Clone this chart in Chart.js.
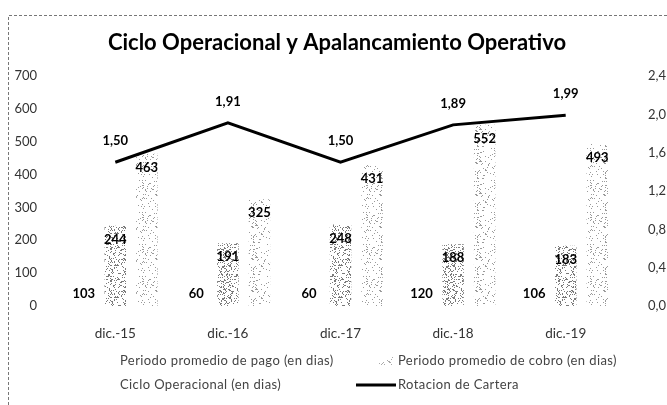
<!DOCTYPE html>
<html><head><meta charset="utf-8">
<script src="https://cdn.jsdelivr.net/npm/chart.js@4.4.1/dist/chart.umd.min.js"></script>
<style>html,body{margin:0;padding:0;background:#fff;}#wrap{position:relative;width:667px;height:405px;}canvas{display:block;}</style>
</head><body><div id="wrap"><canvas id="c" width="667" height="405"></canvas></div>
<script>
// ---- data ----
const categories = ['dic.-15', 'dic.-16', 'dic.-17', 'dic.-18', 'dic.-19'];
const pagoDias = [103, 60, 60, 120, 106];
const cobroDias = [244, 191, 248, 188, 183];
const cicloDias = [463, 325, 431, 552, 493];
const rotacionCartera = [1.50, 1.91, 1.50, 1.89, 1.99];
const leftTicks = [0, 100, 200, 300, 400, 500, 600, 700];
const rightTicks = [0, 0.4, 0.8, 1.2, 1.6, 2.0, 2.4];
const seriesNames = ['Periodo promedio de pago (en dias)', 'Periodo promedio de cobro (en dias)', 'Ciclo Operacional (en dias)', 'Rotacion de Cartera'];
const chartTitle = 'Ciclo Operacional y Apalancamiento Operativo';

const FONT = 'Lato, "Open Sans", sans-serif';

// stipple texture (deterministic hash)
function stipple(threshold, color) {
  const c = document.createElement('canvas');
  c.width = 32; c.height = 32;
  const g = c.getContext('2d');
  g.fillStyle = '#ffffff'; g.fillRect(0, 0, 32, 32);
  g.fillStyle = color;
  for (let y = 0; y < 32; y++) for (let x = 0; x < 32; x++) {
    let h = (x * 374761393 + y * 668265263) | 0;
    h = Math.imul(h ^ (h >>> 13), 1274126177);
    h = (h ^ (h >>> 16)) >>> 0;
    if ((h % 1000) < threshold) g.fillRect(x, y, 1, 1);
  }
  return g.createPattern(c, 'repeat');
}
const ctx0 = document.getElementById('c').getContext('2d');
const cobroFill = stipple(230, '#7a7a7a');
const cicloFill = stipple(110, '#9a9a9a');
const legendCobroFill = stipple(120, '#aaaaaa');

const fmtComma = v => v.toFixed(2).replace('.', ',');

const bgPlugin = {
  id: 'bg',
  beforeDraw(chart) {
    const g = chart.ctx;
    g.save();
    g.fillStyle = '#fff'; g.fillRect(0, 0, chart.width, chart.height);
    g.strokeStyle = '#777'; g.lineWidth = 1; g.setLineDash([3, 2]);
    g.beginPath(); g.moveTo(8.5, 405); g.lineTo(8.5, 15.5); g.lineTo(667, 15.5); g.stroke();
    g.setLineDash([]);
    g.fillStyle = '#000'; g.font = 'bold 22px ' + FONT;
    g.textAlign = 'center'; g.textBaseline = 'middle';
    g.fillText(chartTitle, 337, 43);
    g.restore();
  }
};

const labelPlugin = {
  id: 'vals',
  afterDatasetsDraw(chart) {
    const g = chart.ctx;
    g.save();
    g.textAlign = 'center'; g.textBaseline = 'middle';
    g.fillStyle = '#000';
    g.font = 'bold 13px ' + FONT;
    chart.data.datasets.forEach((ds, di) => {
      const meta = chart.getDatasetMeta(di);
      meta.data.forEach((el, i) => {
        const v = ds.data[i];
        if (ds.type === 'line') {
          g.fillText(fmtComma(v), el.x, el.y - 21);
        } else if (di === 0) {
          g.fillText(String(v), el.x, el.base - 12);
        } else {
          g.fillText(String(v), el.x, el.y + 14);
        }
      });
    });
    g.restore();
  }
};

const legendPlugin = {
  id: 'leg',
  afterDraw(chart) {
    const g = chart.ctx;
    g.save();
    g.font = '13px ' + FONT;
    try { g.letterSpacing = '0.4px'; } catch (e) {}
    g.fillStyle = '#444';
    g.textBaseline = 'middle'; g.textAlign = 'left';
    const r1 = 361, r2 = 385;
    g.fillText(seriesNames[0], 120, r1);
    g.fillStyle = legendCobroFill; g.fillRect(379, r1 - 4, 16, 8);
    g.fillStyle = '#444';
    g.fillText(seriesNames[1], 398, r1);
    g.fillText(seriesNames[2], 120, r2);
    g.strokeStyle = '#000'; g.lineWidth = 3;
    g.beginPath(); g.moveTo(356, r2); g.lineTo(396, r2); g.stroke();
    g.fillText(seriesNames[3], 398, r2);
    g.restore();
  }
};

new Chart(ctx0, {
  data: {
    labels: categories,
    datasets: [
      { type: 'bar', label: seriesNames[0], data: pagoDias, yAxisID: 'y', backgroundColor: '#fff', order: 1 },
      { type: 'bar', label: seriesNames[1], data: cobroDias, yAxisID: 'y', backgroundColor: cobroFill, order: 1 },
      { type: 'bar', label: seriesNames[2], data: cicloDias, yAxisID: 'y', backgroundColor: cicloFill, order: 1 },
      { type: 'line', label: seriesNames[3], data: rotacionCartera, yAxisID: 'y1', borderColor: '#000', borderWidth: 3, pointRadius: 0, tension: 0, order: 0, fill: false }
    ]
  },
  options: {
    responsive: false,
    animation: false,
    events: [],
    datasets: { bar: { categoryPercentage: 0.84, barPercentage: 0.68 } },
    layout: { padding: { left: 0, right: 0, top: 76, bottom: 59 } },
    plugins: { legend: { display: false }, title: { display: false }, tooltip: { enabled: false } },
    scales: {
      x: {
        grid: { display: false }, border: { display: false },
        ticks: { color: '#333', font: { family: FONT, size: 13.5 }, padding: 12 },
        afterFit(s) { s.height = 40; }
      },
      y: {
        position: 'left', min: leftTicks[0], max: leftTicks[leftTicks.length - 1],
        grid: { display: false }, border: { display: false },
        afterBuildTicks(s) { s.ticks = leftTicks.map(v => ({ value: v })); },
        ticks: { color: '#333', font: { family: FONT, size: 13 }, padding: 14 },
        afterFit(s) { s.width = 59; }
      },
      y1: {
        position: 'right', min: rightTicks[0], max: rightTicks[rightTicks.length - 1],
        grid: { display: false }, border: { display: false },
        afterBuildTicks(s) { s.ticks = rightTicks.map(v => ({ value: v })); },
        ticks: { color: '#333', font: { family: FONT, size: 13 }, padding: 18, callback: v => v.toFixed(1).replace('.', ',') },
        afterFit(s) { s.width = 45; }
      }
    }
  },
  plugins: [bgPlugin, labelPlugin, legendPlugin]
});
</script></body></html>
